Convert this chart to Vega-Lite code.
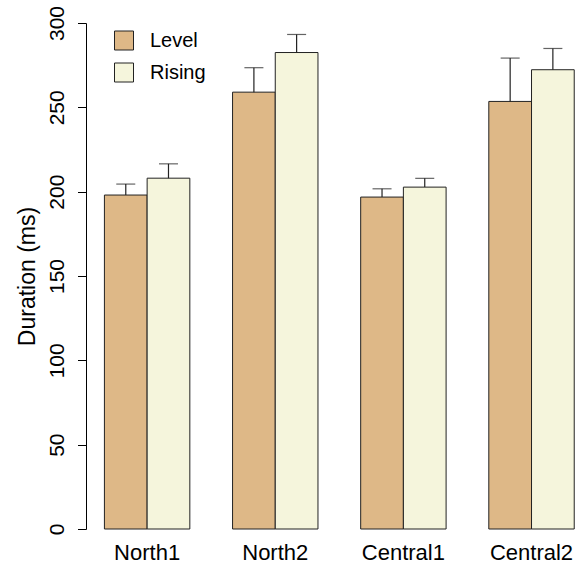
{
  "$schema": "https://vega.github.io/schema/vega-lite/v6.json",
  "width": 492,
  "height": 506,
  "autosize": {"type": "none"},
  "padding": {"left": 86, "top": 23, "right": 0, "bottom": 39},
  "background": "white",
  "config": {
    "view": {"stroke": null},
    "font": "Liberation Sans",
    "axis": {"grid": false, "labelColor": "#000", "titleColor": "#000", "domainColor": "#000", "tickColor": "#000", "labelFont": "Liberation Sans", "titleFont": "Liberation Sans", "titleFontWeight": "normal"},
    "legend": {"labelFont": "Liberation Sans"}
  },
  "data": {
    "values": [
      {"region": "North1", "type": "Level", "mean": 198.0, "upper": 204.5},
      {"region": "North1", "type": "Rising", "mean": 208.0, "upper": 216.5},
      {"region": "North2", "type": "Level", "mean": 259.0, "upper": 273.5},
      {"region": "North2", "type": "Rising", "mean": 282.5, "upper": 293.2},
      {"region": "Central1", "type": "Level", "mean": 196.8, "upper": 201.7},
      {"region": "Central1", "type": "Rising", "mean": 202.7, "upper": 207.9},
      {"region": "Central2", "type": "Level", "mean": 253.5, "upper": 279.2},
      {"region": "Central2", "type": "Rising", "mean": 272.3, "upper": 284.9}
    ]
  },
  "encoding": {
    "x": {
      "field": "region", "type": "nominal", "sort": null,
      "scale": {"paddingInner": 0.3333, "paddingOuter": 0.0866, "align": 0.83},
      "axis": {"title": null, "domain": false, "ticks": false, "tickSize": 0, "labelAngle": 0, "labelFontSize": 22, "labelPadding": 13, "labelBaseline": "top"}
    },
    "xOffset": {"field": "type", "type": "nominal", "scale": {"paddingInner": 0, "paddingOuter": 0}}
  },
  "layer": [
    {
      "mark": {"type": "bar", "stroke": "#222", "strokeWidth": 1},
      "encoding": {
        "y": {
          "field": "mean", "type": "quantitative",
          "scale": {"domain": [0, 300], "nice": false, "zero": true},
          "axis": {"title": "Duration (ms)", "values": [0, 50, 100, 150, 200, 250, 300], "tickSize": 8.5, "labelAngle": -90, "labelAlign": "center", "labelBaseline": "bottom", "labelFontSize": 21, "labelPadding": 10, "titleFontSize": 23, "titlePadding": 7}
        },
        "fill": {
          "field": "type", "type": "nominal",
          "scale": {"domain": ["Level", "Rising"], "range": ["#DEB887", "#F5F5DC"]},
          "legend": {"title": null, "orient": "none", "legendX": 28, "legendY": 7.5, "symbolType": "square", "symbolSize": 361, "symbolStrokeColor": "#222", "symbolStrokeWidth": 1, "labelFontSize": 20, "labelOffset": 16, "rowPadding": 8, "padding": 0, "labelColor": "#000"}
        }
      }
    },
    {
      "mark": {"type": "rule", "color": "#222", "strokeWidth": 1.2},
      "encoding": {
        "y": {"field": "mean", "type": "quantitative"},
        "y2": {"field": "upper"}
      }
    },
    {
      "mark": {"type": "tick", "orient": "horizontal", "color": "#222", "size": 19, "thickness": 1.2},
      "encoding": {
        "y": {"field": "upper", "type": "quantitative"}
      }
    }
  ]
}
